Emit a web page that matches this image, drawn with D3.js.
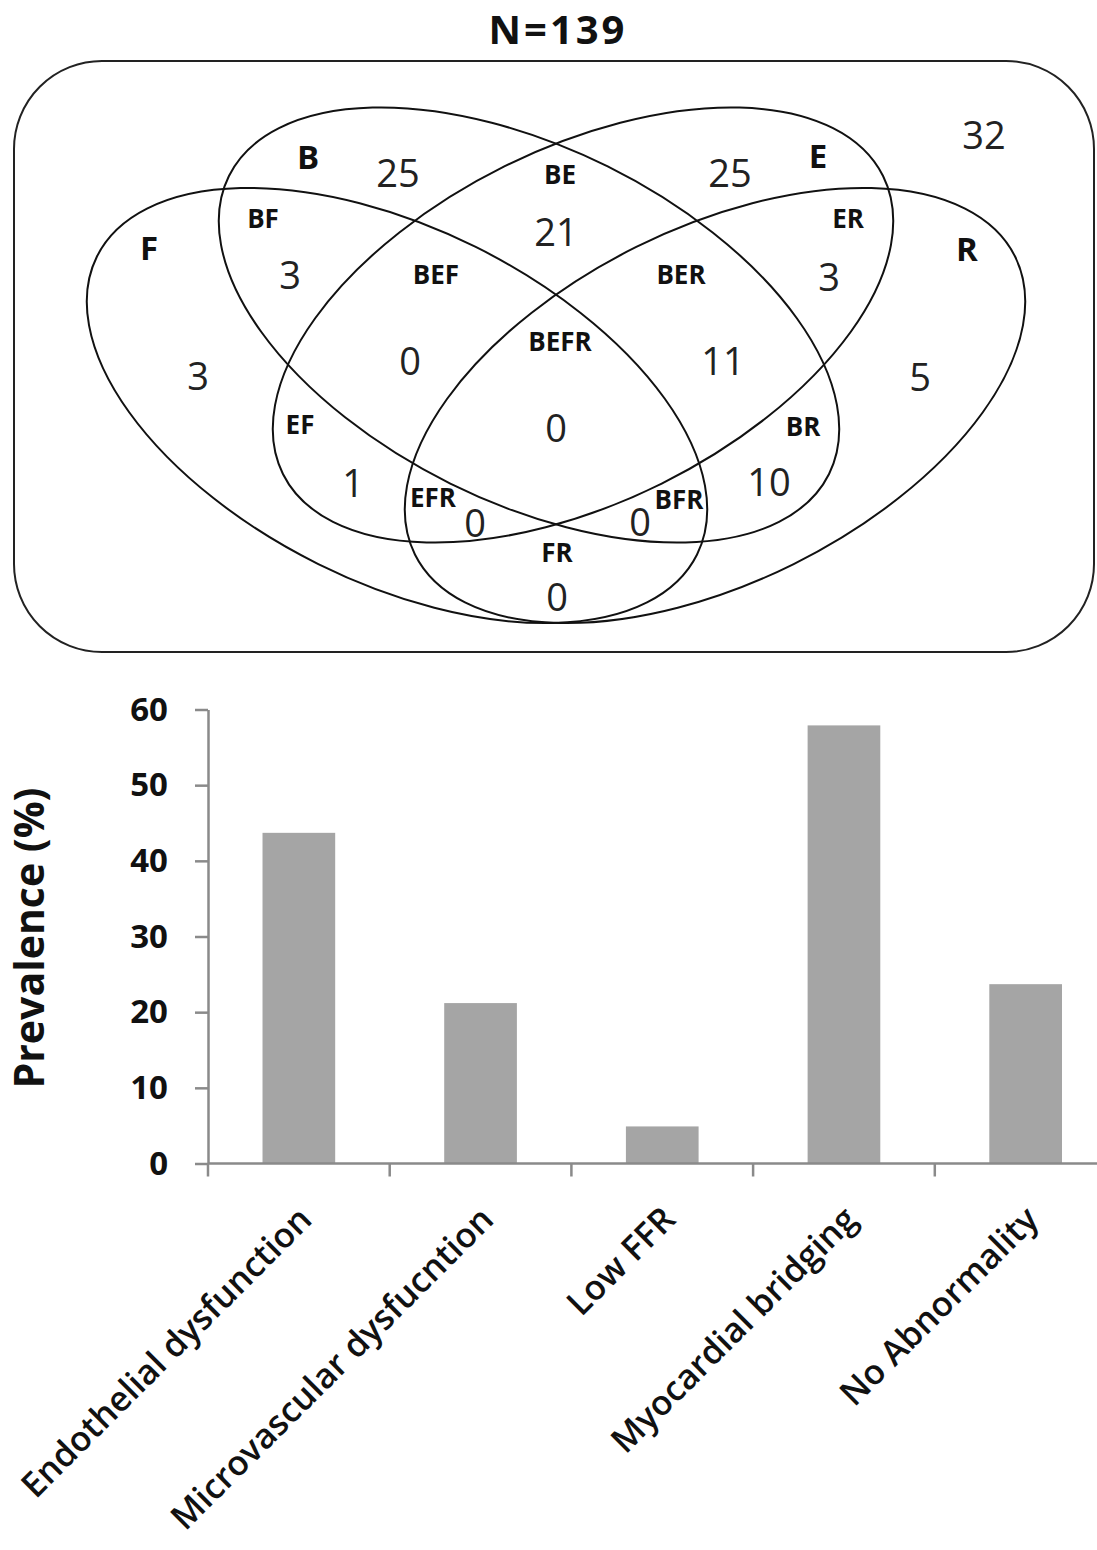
<!DOCTYPE html>
<html><head><meta charset="utf-8">
<script src="https://cdn.jsdelivr.net/npm/d3@7/dist/d3.min.js"></script>
<style>body{margin:0;background:#fff} svg{display:block}</style>
</head><body>
<svg id="chart" width="1097" height="1550"></svg>
<script>
// ---------- DATA ----------
const title = "N=139";
const setNames = ["F", "B", "E", "R"];
const regionKeys = ["B","E","BE","BF","ER","F","R","BEF","BER","BEFR","EF","BR","EFR","BFR","FR","none"];
const regionCounts = [25, 25, 21, 3, 3, 3, 5, 0, 11, 0, 1, 10, 0, 0, 0, 32];
const regionLabelKeys = ["BE","BF","ER","BEF","BER","BEFR","EF","BR","EFR","BFR","FR"];

const categories = ["Endothelial dysfunction", "Microvascular dysfucntion", "Low FFR", "Myocardial bridging", "No Abnormality"];
const prevalence = [43.7, 21.2, 4.9, 57.9, 23.7];
const yTicks = [0, 10, 20, 30, 40, 50, 60];
const yTitle = "Prevalence (%)";

// ---------- LAYOUT (positions / styles) ----------
const FONT = "'Open Sans', 'Noto Sans', sans-serif";
const ellipseLayout = {
  F: {cx: 397, cy: 405.5, rot: 26.4},
  B: {cx: 529, cy: 325, rot: 26.4},
  E: {cx: 583, cy: 325, rot: -26.4},
  R: {cx: 715, cy: 405.5, rot: -26.4}
};
const ellipseR = {rx: 335, ry: 177};
const setLabelPos = {B: [308, 157], E: [818, 156], F: [149, 248], R: [967, 249]};
const regionLabelPos = {
  BE: [560, 175], BF: [263, 219], ER: [848, 219], BEF: [436, 275], BER: [681, 275],
  BEFR: [560, 342], EF: [300, 425], BR: [803, 427], EFR: [433, 498], BFR: [679, 500], FR: [557, 553]
};
const countPos = {
  B: [398, 173], E: [730, 173], BE: [556, 232], BF: [290, 275], ER: [829, 277],
  F: [198, 376], R: [920, 377], BEF: [410, 361], BER: [723, 361], BEFR: [556, 428],
  EF: [353, 483], BR: [769, 482], EFR: [475, 523], BFR: [640, 522], FR: [557, 597], none: [984, 135]
};

const svg = d3.select("#chart");

// ---------- VENN ----------
svg.append("text").attr("x", 558).attr("y", 44)
  .attr("text-anchor", "middle").attr("font-family", FONT)
  .attr("font-weight", 700).attr("font-size", 40).attr("letter-spacing", 3)
  .attr("fill", "#111").text(title);

svg.append("rect").attr("x", 14).attr("y", 61).attr("width", 1080).attr("height", 591)
  .attr("rx", 88).attr("ry", 88)
  .attr("fill", "none").attr("stroke", "#222").attr("stroke-width", 2);

const venn = svg.append("g");
venn.selectAll("ellipse").data(setNames).join("ellipse")
  .attr("cx", 0).attr("cy", 0)
  .attr("rx", ellipseR.rx).attr("ry", ellipseR.ry)
  .attr("transform", d => `translate(${ellipseLayout[d].cx},${ellipseLayout[d].cy}) rotate(${ellipseLayout[d].rot})`)
  .attr("fill", "none").attr("stroke", "#111").attr("stroke-width", 2);

venn.selectAll("text.set").data(setNames).join("text").attr("class", "set")
  .attr("x", d => setLabelPos[d][0]).attr("y", d => setLabelPos[d][1])
  .attr("dy", "0.36em").attr("text-anchor", "middle")
  .attr("font-family", FONT).attr("font-weight", 700).attr("font-size", 33).attr("fill", "#111")
  .text(d => d);

venn.selectAll("text.rl").data(regionLabelKeys).join("text").attr("class", "rl")
  .attr("x", d => regionLabelPos[d][0]).attr("y", d => regionLabelPos[d][1])
  .attr("dy", "0.36em").attr("text-anchor", "middle")
  .attr("font-family", FONT).attr("font-weight", 700).attr("font-size", 26).attr("fill", "#111")
  .text(d => d);

venn.selectAll("text.cnt").data(regionKeys.map((k, i) => ({k, v: regionCounts[i]}))).join("text").attr("class", "cnt")
  .attr("x", d => countPos[d.k][0]).attr("y", d => countPos[d.k][1])
  .attr("dy", "0.36em").attr("text-anchor", "middle")
  .attr("font-family", FONT).attr("font-weight", 400).attr("font-size", 38).attr("fill", "#222")
  .text(d => d.v);

// ---------- BAR CHART ----------
const x = d3.scaleBand().domain(categories).range([208, 1116.5]).padding(0);
const y = d3.scaleLinear().domain([0, 60]).range([1163.5, 709.5]);
const axisColor = "#8a8a8a";

const barW = x.bandwidth() * 0.4;
svg.append("g").selectAll("rect").data(categories).join("rect")
  .attr("x", d => x(d) + x.bandwidth() / 2 - barW / 2)
  .attr("y", (d, i) => y(prevalence[i]))
  .attr("width", barW)
  .attr("height", (d, i) => y(0) - y(prevalence[i]))
  .attr("fill", "#a5a5a5");

// y axis
const yAxis = svg.append("g").attr("transform", "translate(208,0)")
  .call(d3.axisLeft(y).tickValues(yTicks).tickSize(13).tickPadding(10).tickSizeOuter(0));
yAxis.select(".domain").attr("stroke", axisColor).attr("stroke-width", 2.5);
yAxis.selectAll(".tick line").attr("stroke", axisColor).attr("stroke-width", 2.5);
yAxis.selectAll(".tick text").attr("font-family", FONT).attr("font-weight", 700)
  .attr("font-size", 33).attr("fill", "#111").attr("x", -40);

// x axis
const xAxisG = svg.append("g").attr("transform", `translate(0,${y(0)})`);
xAxisG.append("line").attr("x1", 208).attr("x2", 1097).attr("y1", 0).attr("y2", 0)
  .attr("stroke", axisColor).attr("stroke-width", 2.5);
const boundaries = categories.map(c => x(c));
xAxisG.selectAll("line.tk").data(boundaries).join("line").attr("class", "tk")
  .attr("x1", d => d).attr("x2", d => d).attr("y1", 0).attr("y2", 13)
  .attr("stroke", axisColor).attr("stroke-width", 2.5);

xAxisG.selectAll("text").data(categories).join("text")
  .attr("transform", d => `translate(${x(d) + x.bandwidth() / 2 + 15},${58}) rotate(-45)`)
  .attr("text-anchor", "end")
  .attr("font-family", FONT).attr("font-weight", 600).attr("font-size", 34.5).attr("fill", "#111")
  .text(d => d);

// y title
svg.append("text").attr("transform", "translate(44,938) rotate(-90)")
  .attr("text-anchor", "middle").attr("font-family", FONT).attr("font-weight", 700)
  .attr("font-size", 41).attr("fill", "#111").text(yTitle);
</script>
</body></html>
